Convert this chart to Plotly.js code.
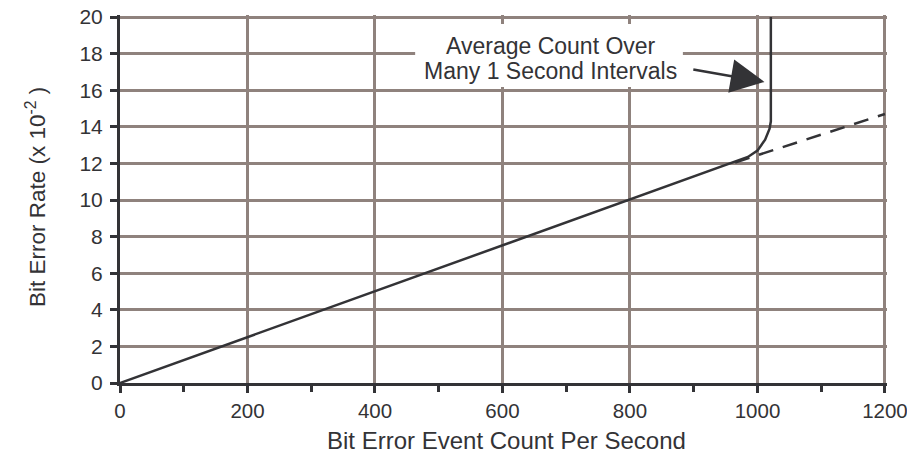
<!DOCTYPE html>
<html>
<head>
<meta charset="utf-8">
<script src="https://cdn.plot.ly/plotly-3.0.1.min.js"></script>
<style>html,body{margin:0;padding:0;background:#fff;}#chart{width:907px;height:462px;}</style>
</head>
<body>
<div id="chart"></div>
<script>
// Measured curve (average count over many 1 s intervals)
const solidX = [0, 960, 985, 1000, 1012, 1019, 1021, 1021];
const solidY = [0, 12, 12.35, 12.7, 13.3, 13.9, 14.3, 20];
// Ideal linear continuation (dashed)
const dashX = [965, 1200];
const dashY = [12.05, 14.7];
// Tick values
const xTicks = [0, 200, 400, 600, 800, 1000, 1200];
const yTicks = [0, 2, 4, 6, 8, 10, 12, 14, 16, 18, 20];
const labelLine1 = "Average Count Over";
const labelLine2 = "Many 1 Second Intervals";
const xTitle = "Bit Error Event Count Per Second";
const yTitle = "Bit Error Rate (x 10<sup>-2</sup> )";

const ink = "#333336";
const grid = "#8f827d";
const font = "Liberation Sans, Arial, Helvetica, sans-serif";

const traces = [
  {x: solidX, y: solidY, mode: "lines", line: {color: ink, width: 2.5}, hoverinfo: "skip"},
  {x: dashX, y: dashY, mode: "lines", line: {color: ink, width: 2.5, dash: "15px,10px"}, hoverinfo: "skip"}
];

const layout = {
  width: 907, height: 462,
  margin: {l: 120, r: 20, t: 15, b: 79},
  paper_bgcolor: "#fff", plot_bgcolor: "#fff",
  showlegend: false,
  font: {family: font, size: 21, color: ink},
  xaxis: {
    range: [0, 1203.2], tickvals: xTicks, ticktext: xTicks.map(String),
    showgrid: true, gridcolor: grid, gridwidth: 3, zeroline: false,
    showline: true, linecolor: ink, linewidth: 3,
    ticks: "outside", ticklen: 7, tickwidth: 3, tickcolor: ink,
    minor: {dtick: 100, tick0: 0, ticks: "outside", ticklen: 6, tickwidth: 3, tickcolor: ink, showgrid: false},
    tickfont: {size: 20.5, color: ink, family: font},
    ticklabeloverflow: "allow",
    automargin: false
  },
  yaxis: {
    range: [0, 20.11], tickvals: yTicks, ticktext: yTicks.map(String),
    showgrid: true, gridcolor: grid, gridwidth: 3, zeroline: false,
    showline: true, linecolor: ink, linewidth: 3,
    ticks: "outside", ticklen: 7, tickwidth: 3, tickcolor: ink,
    tickfont: {size: 21, color: ink, family: font},
    ticklabeloverflow: "allow", ticklabelstandoff: 3,
    automargin: false
  },
  shapes: [
    {type: "rect", xref: "x", yref: "y", x0: 463, x1: 883, y0: 16.17, y1: 19.62,
     fillcolor: "#fff", line: {width: 0}, layer: "between"}
  ],
  annotations: [
    {x: 676, y: 18.43, xref: "x", yref: "y", text: labelLine1, showarrow: false,
     font: {size: 23, color: ink, family: font}, align: "center", xanchor: "center", yanchor: "middle"},
    {x: 675, y: 17.06, xref: "x", yref: "y", text: labelLine2, showarrow: false,
     font: {size: 23, color: ink, family: font}, align: "center", xanchor: "center", yanchor: "middle"},
    {x: 1011, y: 16.45, xref: "x", yref: "y", ax: 897, ay: 17.15, axref: "x", ayref: "y",
     text: "", showarrow: true, arrowhead: 2, arrowsize: 2.7, arrowwidth: 2.5, arrowcolor: ink},
    {x: 0, y: 0, xref: "paper", yref: "paper", yanchor: "middle", xanchor: "center",
     text: xTitle, showarrow: false, font: {size: 24, color: ink, family: font}},
    {x: 0, y: 0, xref: "paper", yref: "paper", yanchor: "middle", xanchor: "center",
     text: yTitle, showarrow: false, textangle: -90, font: {size: 22.5, color: ink, family: font}}
  ]
};
// paper coordinates for the axis titles (converted from pixel positions)
const W = 907 - layout.margin.l - layout.margin.r, H = 462 - layout.margin.t - layout.margin.b;
layout.annotations[3].x = (506 - layout.margin.l) / W;
layout.annotations[3].y = (462 - layout.margin.b - 440) / H;
layout.annotations[4].x = (36 - layout.margin.l) / W;
layout.annotations[4].y = (462 - layout.margin.b - 197) / H;

Plotly.newPlot("chart", traces, layout, {displayModeBar: false, staticPlot: true});
</script>
</body>
</html>
